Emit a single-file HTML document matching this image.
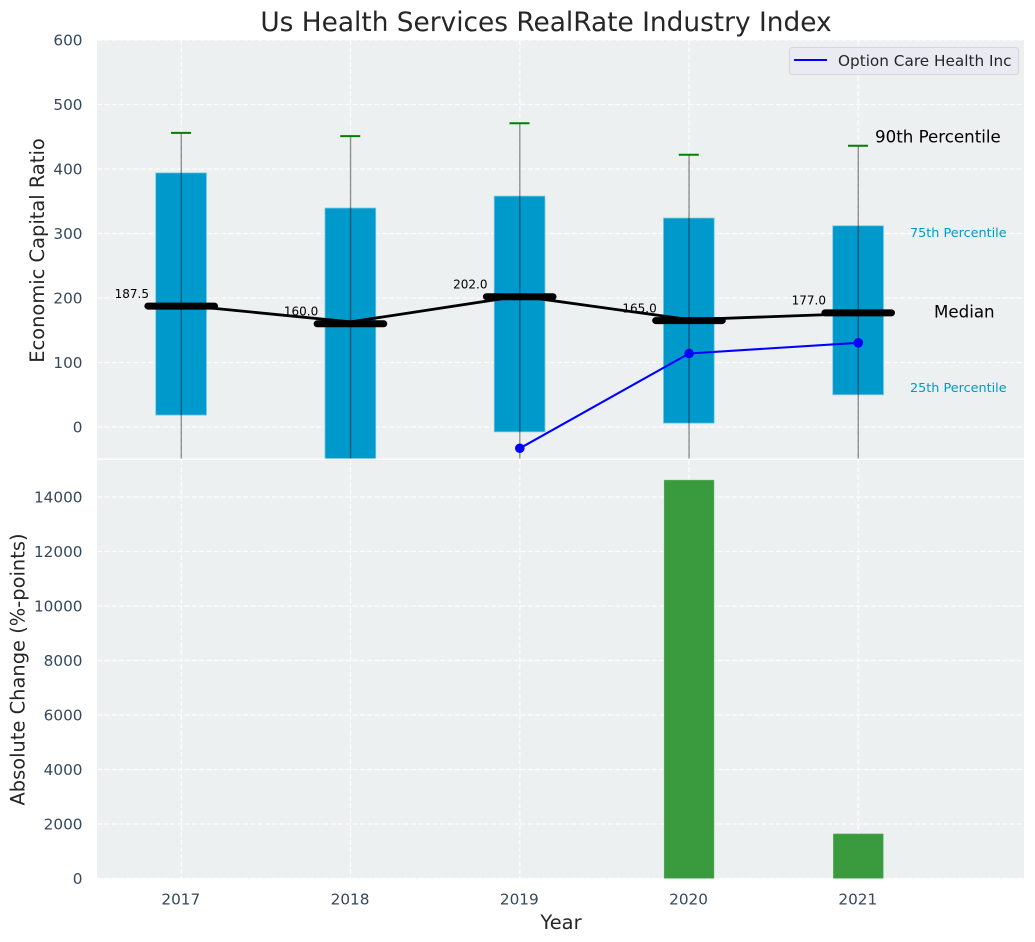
<!DOCTYPE html>
<html>
<head>
<meta charset="utf-8">
<title>Us Health Services RealRate Industry Index</title>
<style>
html,body{margin:0;padding:0;background:#fff;}
svg{display:block;font-family:"DejaVu Sans","Liberation Sans",sans-serif;}
</style>
</head>
<body>
<svg id="chart" width="1035" height="942" viewBox="0 0 1035 942" xmlns="http://www.w3.org/2000/svg">
  <defs>
    <clipPath id="clip-top"><rect x="97" y="40" width="927" height="418.5"/></clipPath>
    <clipPath id="clip-bottom"><rect x="97" y="460" width="927" height="418.5"/></clipPath>
  </defs>
  <rect x="97" y="40" width="927" height="418.5" fill="#ecf0f1"/>
  <rect x="97" y="460" width="927" height="418.5" fill="#ecf0f1"/>
  <g id="grid-top"></g>
  <g id="grid-bottom"></g>
  <g id="marks-top" clip-path="url(#clip-top)"></g>
  <g id="marks-bottom" clip-path="url(#clip-bottom)"></g>
  <g id="labels"></g>
  <text x="546" y="31" text-anchor="middle" font-size="26.39" fill="#262626">Us Health Services RealRate Industry Index</text>
  <text transform="translate(44,250.5) rotate(-90)" text-anchor="middle" font-size="19.44" fill="#262626">Economic Capital Ratio</text>
  <text transform="translate(24.5,669.5) rotate(-90)" text-anchor="middle" font-size="19.44" fill="#262626">Absolute Change (%-points)</text>
  <text x="561" y="929" text-anchor="middle" font-size="19.44" fill="#262626">Year</text>
  <g>
    <rect x="789.5" y="47.5" width="229" height="27" rx="3" fill="#eaeaf2" stroke="#d6d6dc" stroke-width="1"/>
    <line x1="794" y1="60" x2="827" y2="60" stroke="#0000ff" stroke-width="2.08"/>
    <text x="838" y="66" font-size="15.28" fill="#262626">Option Care Health Inc</text>
  </g>
</svg>
<script>
const years = [2017, 2018, 2019, 2020, 2021];
const p90 = [456, 451, 471, 422, 436];
const p75 = [394, 339.5, 358, 324, 312];
const medians = [187.5, 160, 202, 165, 177];
const medianTrend = [189, 163, 203, 166.5, 176];
const p25 = [18.5, -60, -7.5, 6, 50];
const p10 = [-100, -100, -100, -100, -100];
const companyYears = [2019, 2020, 2021];
const companyValues = [-33, 114, 130.5];
const changeYears = [2020, 2021];
const changeValues = [14620, 1635];
const topTicks = [0, 100, 200, 300, 400, 500, 600];
const bottomTicks = [0, 2000, 4000, 6000, 8000, 10000, 12000, 14000];

const NS = 'http://www.w3.org/2000/svg';
const xScale = v => 181.3 + (v - 2017) * 169.25;
const yTop = v => 427 - v * 0.645;
const yBottom = v => 878.5 - v * 0.02725;
const BOX_WIDTH = 0.3;

function make(tag, parent, attrs, content) {
  const el = document.createElementNS(NS, tag);
  for (const k in attrs) el.setAttribute(k, attrs[k]);
  if (content !== undefined) el.textContent = content;
  parent.appendChild(el);
  return el;
}

const gridTop = document.getElementById('grid-top');
const gridBottom = document.getElementById('grid-bottom');
const marksTop = document.getElementById('marks-top');
const marksBottom = document.getElementById('marks-bottom');
const labels = document.getElementById('labels');
const gridStyle = {stroke: '#ffffff', 'stroke-width': 1.3, 'stroke-dasharray': '5.1 2.2', opacity: 0.8};

topTicks.forEach(t => {
  const y = yTop(t);
  const line = make('line', gridTop, Object.assign({x1: 97, x2: 1024, y1: y, y2: y}, gridStyle));
  
  
  const label = make('text', labels, {x: 82.5, y: y + 5.5, 'text-anchor': 'end', 'font-size': 15.28, fill: '#34495e'}, String(t));
  
  
});

bottomTicks.forEach(t => {
  const y = yBottom(t);
  const line = make('line', gridBottom, Object.assign({x1: 97, x2: 1024, y1: y, y2: y}, gridStyle));
  
  
  const label = make('text', labels, {x: 82.5, y: y + 5.5, 'text-anchor': 'end', 'font-size': 15.28, fill: '#34495e'}, String(t));
  
  
});

years.forEach(yr => {
  const x = xScale(yr);
  const gt = make('line', gridTop, Object.assign({x1: x, x2: x, y1: 40, y2: 458.5}, gridStyle));
  
  
  const gb = make('line', gridBottom, Object.assign({x1: x, x2: x, y1: 460, y2: 878.5}, gridStyle));
  
  
  const label = make('text', labels, {x: x - 0.5, y: 904.5, 'text-anchor': 'middle', 'font-size': 15.28, fill: '#34495e'}, String(yr));
  
  
});

years.forEach((yr, i) => {
  const x0 = xScale(yr - BOX_WIDTH / 2) - 0.2;
  const x1 = xScale(yr + BOX_WIDTH / 2) - 0.2;
  const box = make('rect', marksTop, {x: x0, y: yTop(p75[i]), width: x1 - x0, height: yTop(p25[i]) - yTop(p75[i]), fill: '#0099cc', stroke: '#7cc8e2', 'stroke-width': 0.8});
  
  
});

years.forEach((yr, i) => {
  const x = xScale(yr);
  const w = make('line', marksTop, {x1: x, x2: x, y1: yTop(p90[i]), y2: yTop(p10[i]), stroke: '#000000', 'stroke-opacity': 0.42, 'stroke-width': 1.39});
  
  
  const cap = make('line', marksTop, {x1: x - 10.3, x2: x + 9.7, y1: yTop(p90[i]), y2: yTop(p90[i]), stroke: '#008000', 'stroke-width': 2});
  
  
});

years.forEach((yr, i) => {
  const label = make('text', marksTop, {x: xScale(yr) - 32.3, y: yTop(medians[i]) - 8.2, 'text-anchor': 'end', 'font-size': 12, fill: '#000000'}, medians[i].toFixed(1));
  
  
});

const medianPath = make('polyline', marksTop, {points: years.map((yr, i) => xScale(yr) + ',' + yTop(medianTrend[i])).join(' '), fill: 'none', stroke: '#000000', 'stroke-width': 2.78});



years.forEach((yr, i) => {
  const x = xScale(yr);
  const bar = make('line', marksTop, {x1: x - 33.4, x2: x + 33.2, y1: yTop(medians[i]), y2: yTop(medians[i]), stroke: '#000000', 'stroke-width': 7, 'stroke-linecap': 'round'});
  
  
});

const companyLine = make('polyline', marksTop, {points: companyYears.map((yr, i) => xScale(yr) + ',' + yTop(companyValues[i])).join(' '), fill: 'none', stroke: '#0000ff', 'stroke-width': 2.08});



companyYears.forEach((yr, i) => {
  const dot = make('circle', marksTop, {cx: xScale(yr), cy: yTop(companyValues[i]), r: 4.8, fill: '#0000ff'});
  
  
});

changeYears.forEach((yr, i) => {
  const x0 = xScale(yr) - 24.9;
  const y = yBottom(changeValues[i]);
  const bar = make('rect', marksBottom, {x: x0, y: y, width: 49.8, height: 878.5 - y, fill: '#3a9a3e', stroke: '#5aab5e', 'stroke-width': 0.5});
  
  
});

const last = years.length - 1;
const p90Note = make('text', labels, {x: 875, y: yTop(p90[last]) - 8, 'font-size': 16.67, fill: '#000000', 'dominant-baseline': 'middle'}, '90th Percentile');


const p75Note = make('text', labels, {x: 910, y: yTop(p75[last]) + 7.5, 'font-size': 12.8, fill: '#0099cc', 'dominant-baseline': 'middle'}, '75th Percentile');


const medianNote = make('text', labels, {x: 934, y: yTop(medians[last]), 'font-size': 16.67, fill: '#000000', 'dominant-baseline': 'middle'}, 'Median');


const p25Note = make('text', labels, {x: 910, y: yTop(p25[last]) - 6.5, 'font-size': 12.8, fill: '#0099cc', 'dominant-baseline': 'middle'}, '25th Percentile');


</script>
</body>
</html>
